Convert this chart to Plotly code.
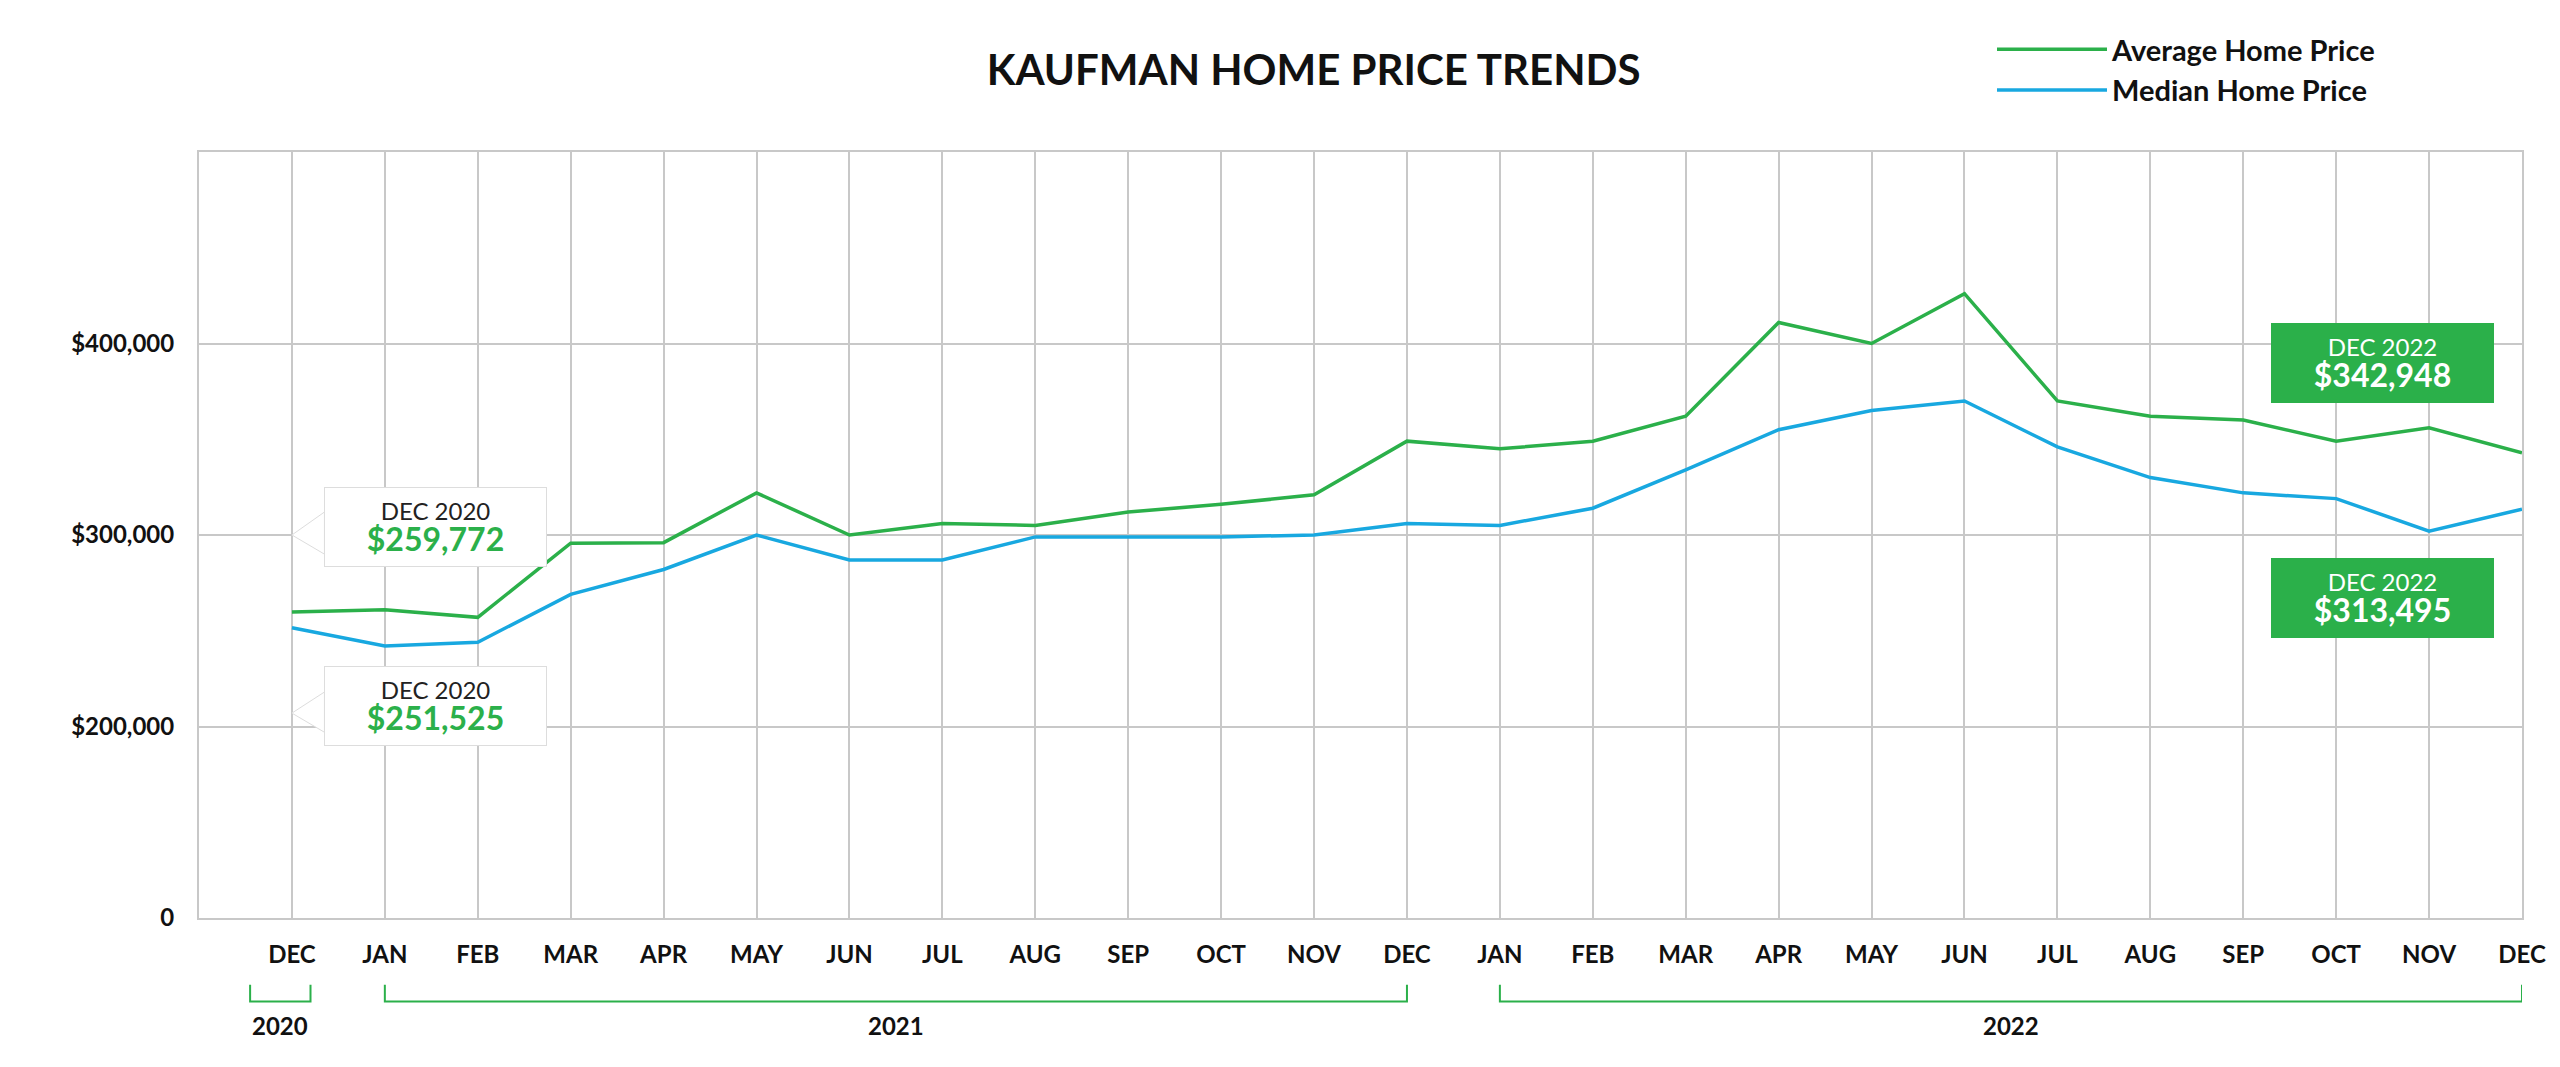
import plotly.graph_objects as go

months = ["DEC","JAN","FEB","MAR","APR","MAY","JUN","JUL","AUG","SEP","OCT","NOV","DEC",
          "JAN","FEB","MAR","APR","MAY","JUN","JUL","AUG","SEP","OCT","NOV","DEC"]
average = [259772,261000,257000,295700,296000,322000,300000,306000,305000,312000,316000,321000,349000,
           345000,349000,362000,411000,400000,426000,370000,362000,360000,349000,356000,342948]
median = [251525,242000,244000,269000,282000,300000,287000,287000,299000,299000,299000,300000,306000,
          305000,314000,334000,355000,365000,370000,346000,330000,322000,319000,302000,313495]
yticks = [100000,200000,300000,400000]
ytext = ["0","$200,000","$300,000","$400,000"]
years = [("2020",-0.45,0.2),("2021",1,12),("2022",13,24)]

GREEN = "#2bb04a"; BLUE = "#18a8e0"
x = list(range(len(months)))
FONT = "Lato"

fig = go.Figure()
fig.add_trace(go.Scatter(x=x, y=average, mode="lines", name="<b>Average Home Price</b>",
                         line=dict(color=GREEN, width=3.5)))
fig.add_trace(go.Scatter(x=x, y=median, mode="lines", name="<b>Median Home Price</b>",
                         line=dict(color=BLUE, width=3.5)))

shapes = []
for name, a, b in years:
    shapes.append(dict(type="path", xref="x", yref="paper",
                       path=f"M {a} -0.087 L {a} -0.109 L {b} -0.109 L {b} -0.087",
                       line=dict(color=GREEN, width=2)))
ann = []
for name, a, b in years:
    ann.append(dict(x=(a+b)/2, y=-0.162, xref="x", yref="paper", text=f"<b>{name}</b>",
                    showarrow=False, font=dict(size=24, color="#111", family=FONT)))

def callout(xc, yc, label, val, green_bg, tip):
    fg = "white" if green_bg else GREEN
    top = "white" if green_bg else "#222"
    ann.append(dict(x=xc, y=yc, xref="x", yref="y",
                    text=f"<span style='color:{top}'>{label}</span><br>"
                         f"<b><span style='color:{fg};font-size:32px'>{val}</span></b>",
                    showarrow=False, bgcolor=GREEN if green_bg else "white",
                    bordercolor=GREEN if green_bg else "#dddddd", borderwidth=1,
                    width=205, borderpad=8, font=dict(family=FONT, size=24)))
    shapes.append(dict(type="path", xref="x", yref="y", path=tip,
                       fillcolor=GREEN if green_bg else "white",
                       line=dict(color=GREEN if green_bg else "#dddddd", width=1)))

callout(1.55, 304000, "DEC 2020", "$259,772", False, "M 0.35 312000 L 0.0 300000 L 0.35 290000 Z")
callout(1.55, 210600, "DEC 2020", "$251,525", False, "M 0.35 218000 L 0.0 207000 L 0.35 197000 Z")
callout(22.5, 390000, "DEC 2022", "$342,948", True, "M 24.3 398000 L 24.6 389000 L 24.3 380000 Z")
callout(22.5, 267000, "DEC 2022", "$313,495", True, "M 24.3 275000 L 24.6 266000 L 24.3 257000 Z")

fig.update_layout(
    width=2560, height=1067, plot_bgcolor="white", paper_bgcolor="white",
    margin=dict(l=191, r=46, t=144, b=157, autoexpand=False),
    title=dict(text="<b>KAUFMAN HOME PRICE TRENDS</b>", x=0.51, xanchor="center", y=0.955,
               font=dict(size=42, color="#111", family=FONT)),
    legend=dict(x=0.775, y=0.985, xref="container", yref="container", xanchor="left", yanchor="top",
                bgcolor="rgba(0,0,0,0)", tracegroupgap=8,
                font=dict(size=29, color="#111", family=FONT), itemwidth=110),
    xaxis=dict(range=[-1, 24], tickvals=x, ticktext=[f"<b>{m}</b>" for m in months],
               showgrid=True, gridcolor="#c8c8c8", gridwidth=2, zeroline=False,
               showline=True, linecolor="#c8c8c8", linewidth=2, mirror=True,
               tickfont=dict(size=24, color="#111", family=FONT), ticks="", ticklabelstandoff=14),
    yaxis=dict(range=[100000, 500000], tickvals=yticks, ticktext=[f"<b>{t}</b>" for t in ytext],
               showgrid=True, gridcolor="#c8c8c8", gridwidth=2, zeroline=False,
               showline=True, linecolor="#c8c8c8", linewidth=2, mirror=True,
               tickfont=dict(size=24, color="#111", family=FONT), ticks="", ticklabelstandoff=18),
    shapes=shapes, annotations=ann, showlegend=True,
)
fig.write_html("out.html")
